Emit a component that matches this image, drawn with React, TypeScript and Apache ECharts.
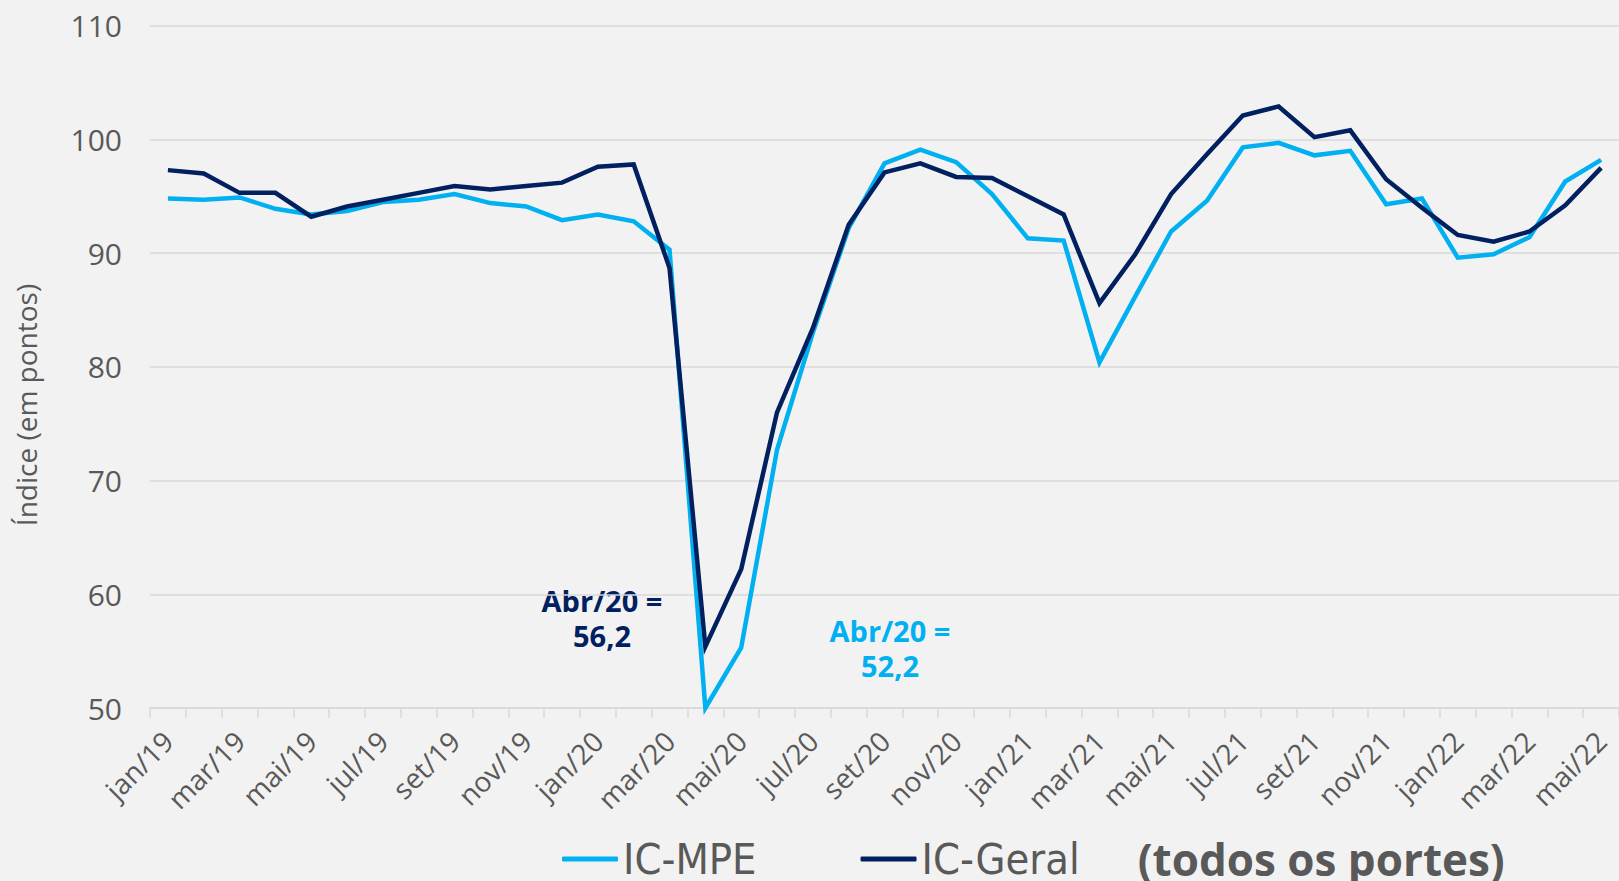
import React, { useEffect, useRef } from "react";
import * as echarts from "echarts";

const months: string[] = [
  "jan/19","fev/19","mar/19","abr/19","mai/19","jun/19","jul/19","ago/19","set/19","out/19","nov/19","dez/19",
  "jan/20","fev/20","mar/20","abr/20","mai/20","jun/20","jul/20","ago/20","set/20","out/20","nov/20","dez/20",
  "jan/21","fev/21","mar/21","abr/21","mai/21","jun/21","jul/21","ago/21","set/21","out/21","nov/21","dez/21",
  "jan/22","fev/22","mar/22","abr/22","mai/22",
];

const icMpe: number[] = [
  94.8, 94.7, 94.9, 93.9, 93.4, 93.7, 94.5, 94.7, 95.2, 94.4, 94.1, 92.9,
  93.4, 92.8, 90.3, 50.0, 55.3, 72.7, 83.0, 92.2, 97.9, 99.1, 98.0, 95.2,
  91.3, 91.1, 80.4, 86.2, 91.9, 94.6, 99.3, 99.7, 98.6, 99.0, 94.3, 94.8,
  89.6, 89.9, 91.4, 96.3, 98.2,
];

const icGeral: number[] = [
  97.3, 97.0, 95.3, 95.3, 93.2, 94.1, 94.7, 95.3, 95.9, 95.6, 95.9, 96.2,
  97.6, 97.8, 88.7, 55.4, 62.2, 76.0, 83.4, 92.5, 97.1, 97.9, 96.7, 96.6,
  95.0, 93.4, 85.6, 89.9, 95.2, 98.7, 102.1, 102.9, 100.2, 100.8, 96.5, 94.0,
  91.6, 91.0, 91.9, 94.2, 97.5,
];

const seriesNames: string[] = ["IC-MPE", "IC-Geral"];
const legendSuffix = "(todos os portes)";
const yTicks = { min: 50, max: 110, interval: 10 };
const yAxisTitle = "Índice (em pontos)";
const noteGeral: string[] = ["Abr/20 =", "56,2"];
const noteMpe: string[] = ["Abr/20 =", "52,2"];

const LIGHT = "#00B0F0";
const DARK = "#002060";
const GREY = "#595959";
const GRID = "#D9D9D9";

function noteTexts(lines: string[], cx: number, cy: number, color: string) {
  return lines.map((t, i) => ({
    type: "text",
    x: cx,
    y: cy + i * 35,
    style: {
      text: t,
      fill: color,
      font: "bold 29px 'Open Sans'",
      textAlign: "center",
      textVerticalAlign: "middle",
    },
  }));
}

export default function App() {
  const ref = useRef<HTMLDivElement>(null);

  useEffect(() => {
    if (!ref.current) return;
    const chart = echarts.init(ref.current, null, { renderer: "svg" });
    chart.setOption({
      animation: false,
      backgroundColor: "#F2F2F2",
      grid: { left: 150, right: -11, top: 25.7, bottom: 173, containLabel: false },
      xAxis: {
        type: "category",
        data: months,
        boundaryGap: true,
        axisLine: { show: true, lineStyle: { color: GRID, width: 1.5 } },
        axisTick: { show: true, interval: 0, length: 10, lineStyle: { color: GRID, width: 1.5 } },
        axisLabel: {
          interval: 1,
          rotate: 45,
          margin: 28,
          color: GREY,
          fontFamily: "Open Sans",
          fontSize: 28,
        },
        splitLine: { show: false },
      },
      yAxis: {
        type: "value",
        min: yTicks.min,
        max: yTicks.max,
        interval: yTicks.interval,
        axisLine: { show: false },
        axisTick: { show: false },
        axisLabel: { color: GREY, fontFamily: "Open Sans", fontSize: 30, margin: 28 },
        splitLine: { show: true, lineStyle: { color: GRID, width: 1.5 } },
      },
      legend: {
        data: seriesNames,
        left: 557,
        top: 832,
        itemGap: 104,
        itemWidth: 56,
        itemHeight: 5,
        icon: "roundRect",
        formatter: (name: string) =>
          name === seriesNames[1] ? `${name}{s|}{b|${legendSuffix}}` : name,
        textStyle: {
          color: GREY,
          fontFamily: "'DejaVu Sans Condensed', 'Liberation Sans Narrow', sans-serif",
          fontSize: 43,
          rich: {
            s: { width: 58 },
            b: {
              color: GREY,
              fontFamily: "Open Sans",
              fontWeight: "bold",
              fontSize: 44,
            },
          },
        },
      },
      graphic: [
        {
          type: "text",
          x: 26,
          y: 405,
          rotation: Math.PI / 2,
          style: {
            text: yAxisTitle,
            fill: GREY,
            font: "28px 'Open Sans'",
            textAlign: "center",
            textVerticalAlign: "middle",
          },
        },
        ...noteTexts(noteGeral, 602, 600, DARK),
        ...noteTexts(noteMpe, 890, 630, LIGHT),
      ],
      series: [
        {
          name: seriesNames[0],
          type: "line",
          data: icMpe,
          symbol: "none",
          clip: false,
          color: LIGHT,
          lineStyle: { color: LIGHT, width: 4.5, join: "miter" },
        },
        {
          name: seriesNames[1],
          type: "line",
          data: icGeral,
          symbol: "none",
          clip: false,
          color: DARK,
          lineStyle: { color: DARK, width: 4.5, join: "miter" },
        },
      ],
    });
    return () => chart.dispose();
  }, []);

  return (
    <div
      ref={ref}
      style={{ position: "fixed", left: 0, top: 0, width: 1619, height: 881, background: "#F2F2F2" }}
    />
  );
}
